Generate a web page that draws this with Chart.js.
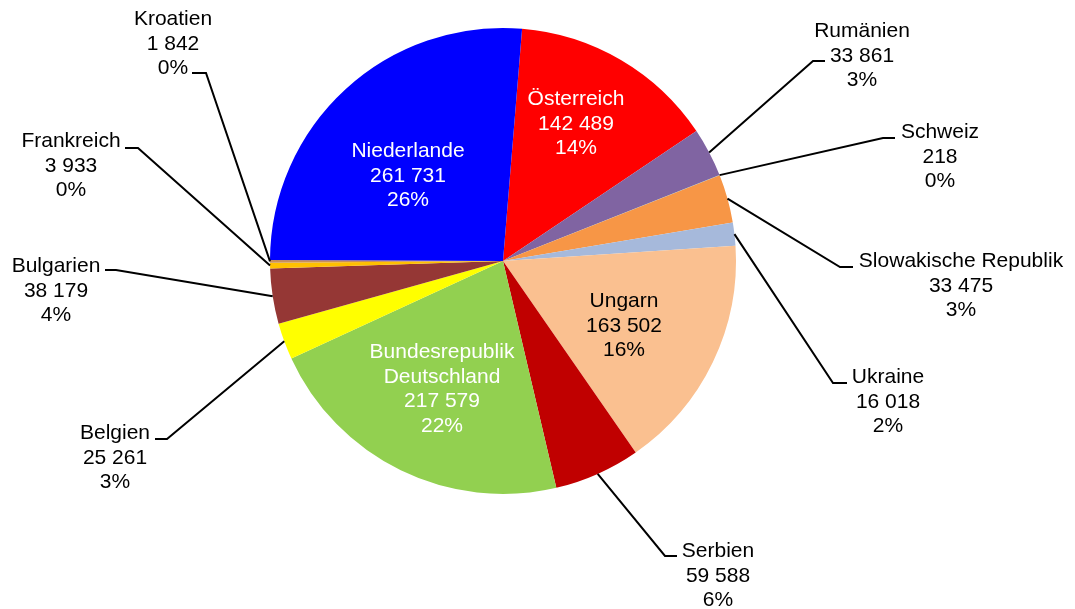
<!DOCTYPE html>
<html>
<head>
<meta charset="utf-8">
<script src="https://cdn.jsdelivr.net/npm/chart.js@4"></script>
<style>
  body { margin: 0; background: #fff; }
  canvas { display: block; }
</style>
</head>
<body>
<canvas id="pie" width="1075" height="609"></canvas>
<script>
// countries, clockwise from the top
const countries = ['Österreich', 'Rumänien', 'Schweiz', 'Slowakische Republik', 'Ukraine',
  'Ungarn', 'Serbien', 'Bundesrepublik Deutschland', 'Belgien', 'Bulgarien',
  'Frankreich', 'Kroatien', 'Niederlande'];
const amounts = [142489, 33861, 218, 33475, 16018, 163502, 59588, 217579, 25261, 38179, 3933, 1842, 261731];
const sliceColors = ['#FF0000', '#8064A2', '#4BACC6', '#F79646', '#A6B9DB', '#FAC090', '#C00000',
  '#92D050', '#FFFF00', '#953735', '#FFC000', '#C8905A', '#0000FF'];

// label text lines (name may wrap) and where each label block sits
const nameLines = {
  'Bundesrepublik Deutschland': ['Bundesrepublik', 'Deutschland']
};
// inside labels: text centre x, first baseline y, colour
// outside labels: text centre x, first baseline y, leader stub y, elbow x, stub end x
const labelPlacement = [
  { inside: true, x: 576, y: 105, color: '#fff' },
  { x: 862, y: 37, stubY: 61, elbowX: 813, endX: 825 },
  { x: 940, y: 138, stubY: 138, elbowX: 883, endX: 895 },
  { x: 961, y: 267, stubY: 267, elbowX: 840, endX: 853 },
  { x: 888, y: 383, stubY: 383, elbowX: 833, endX: 847 },
  { inside: true, x: 624, y: 307, color: '#000' },
  { x: 718, y: 557, stubY: 556, elbowX: 665, endX: 677 },
  { inside: true, x: 442, y: 358, color: '#fff' },
  { x: 115, y: 439, stubY: 439, elbowX: 167, endX: 155 },
  { x: 56, y: 272, stubY: 270, elbowX: 116, endX: 105 },
  { x: 71, y: 147, stubY: 148, elbowX: 138, endX: 125 },
  { x: 173, y: 25, stubY: 73, elbowX: 206, endX: 192 },
  { inside: true, x: 408, y: 157, color: '#fff' }
];

const total = amounts.reduce((a, b) => a + b, 0);
const LINE_H = 24.7;

function fmt(n) {
  return String(n).replace(/\B(?=(\d{3})+(?!\d))/g, ' ');
}

const pieLabels = {
  id: 'pieLabels',
  afterDatasetsDraw(chart) {
    const ctx = chart.ctx;
    const arcs = chart.getDatasetMeta(0).data;
    ctx.save();
    ctx.font = '21px "Liberation Sans", Arial, sans-serif';
    ctx.textAlign = 'center';
    ctx.textBaseline = 'alphabetic';
    arcs.forEach((arc, i) => {
      const p = labelPlacement[i];
      const lines = (nameLines[countries[i]] || [countries[i]]).concat([
        fmt(amounts[i]),
        Math.round(amounts[i] / total * 100) + '%'
      ]);
      if (!p.inside) {
        // leader line from the rim at the slice's mid angle
        const mid = (arc.startAngle + arc.endAngle) / 2;
        const ax = arc.x + Math.cos(mid) * arc.outerRadius;
        const ay = arc.y + Math.sin(mid) * arc.outerRadius;
        ctx.strokeStyle = '#000';
        ctx.lineWidth = 2;
        ctx.beginPath();
        ctx.moveTo(ax, ay);
        ctx.lineTo(p.elbowX, p.stubY);
        ctx.lineTo(p.endX, p.stubY);
        ctx.stroke();
      }
      ctx.fillStyle = p.color || '#000';
      lines.forEach((t, k) => ctx.fillText(t, p.x, p.y + k * LINE_H));
    });
    ctx.restore();
  }
};

new Chart(document.getElementById('pie'), {
  type: 'pie',
  data: {
    labels: countries,
    datasets: [{
      data: amounts,
      backgroundColor: sliceColors,
      borderWidth: 0
    }]
  },
  options: {
    responsive: false,
    animation: false,
    rotation: 4.7,
    layout: { padding: { left: 270, right: 339, top: 28, bottom: 115 } },
    plugins: {
      legend: { display: false },
      tooltip: { enabled: false }
    }
  },
  plugins: [pieLabels]
});
</script>
</body>
</html>
